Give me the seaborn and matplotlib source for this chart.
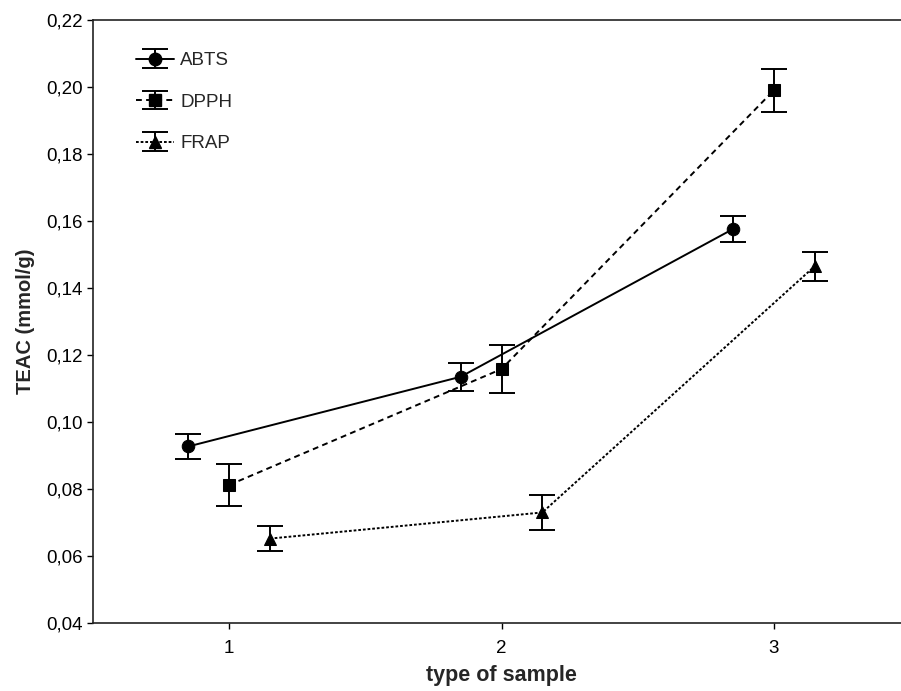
import matplotlib
matplotlib.use("Agg")
import matplotlib.pyplot as plt
from matplotlib.lines import Line2D
from matplotlib.legend_handler import HandlerTuple
from matplotlib.ticker import FuncFormatter
import seaborn as sns
import numpy as np
import pandas as pd

# ============================================================================
# DATA
# ============================================================================

samples = [1, 2, 3]
series = ["ABTS", "DPPH", "FRAP"]
offsets = [-0.15, 0.0, 0.15]

abts_mean = [0.0927, 0.1135, 0.1576]
abts_err = [0.0037, 0.0042, 0.0039]
dpph_mean = [0.0812, 0.1158, 0.1990]
dpph_err = [0.0063, 0.0071, 0.0065]
frap_mean = [0.0652, 0.0730, 0.1465]
frap_err = [0.0038, 0.0053, 0.0043]

means = {"ABTS": abts_mean, "DPPH": dpph_mean, "FRAP": frap_mean}
errs = {"ABTS": abts_err, "DPPH": dpph_err, "FRAP": frap_err}

markers = {"ABTS": "o", "DPPH": "s", "FRAP": "^"}
dashes = {"ABTS": "", "DPPH": (3, 2.2), "FRAP": (1.4, 1.0)}

rows = []
for s, off in zip(series, offsets):
    for x, m, e in zip(samples, means[s], errs[s]):
        rows.append({"series": s, "x": x + off, "teac": m, "err": e})
df = pd.DataFrame(rows)

# ============================================================================
# PLOT
# ============================================================================

sns.set_style("ticks")
plt.rcParams["font.family"] = ["Liberation Sans", "DejaVu Sans"]

fig = plt.figure(figsize=(9.01, 6.91), dpi=100)
ax = fig.add_axes([93 / 901, 68 / 691, 817 / 901, 603 / 691])

sns.lineplot(data=df, x="x", y="teac", style="series", markers=markers,
             dashes=dashes, color="black", linewidth=1.4, markersize=9,
             markeredgecolor="black", legend=False, ax=ax, sort=True)

handles = []
for s in series:
    d = df[df["series"] == s]
    cont = ax.errorbar(d["x"], d["teac"], yerr=d["err"], fmt="none",
                       ecolor="black", elinewidth=1.4, capsize=9.5,
                       capthick=1.4, zorder=1)
    proxy = Line2D([], [], color="black", marker=markers[s], markersize=9,
                   linewidth=1.4,
                   linestyle="-" if s == "ABTS" else (0, dashes[s]))
    handles.append((cont, proxy))

ax.legend(handles, series, handler_map={tuple: HandlerTuple(ndivide=1)},
          loc="upper left", bbox_to_anchor=(0.032, 0.975), frameon=False,
          fontsize=13.5, handlelength=2.0, handletextpad=0.35, labelspacing=1.3)

ax.set_xlim(0.5, 3.5)
ax.set_ylim(0.04, 0.22)
ax.set_xticks(samples)
ax.set_yticks(np.arange(0.04, 0.2201, 0.02))
ax.yaxis.set_major_formatter(FuncFormatter(lambda v, p: f"{v:.2f}".replace(".", ",")))
ax.tick_params(axis="both", labelsize=13.5, length=4, width=1, direction="out",
               color="black", labelcolor="black")
ax.tick_params(axis="x", pad=8)

for sp in ax.spines.values():
    sp.set_color("#222222")
    sp.set_linewidth(1.2)

ax.set_xlabel("type of sample", fontsize=15.5, fontweight="bold", labelpad=6)
ax.set_ylabel("TEAC (mmol/g)", fontsize=14.5, fontweight="bold", labelpad=8)

fig.savefig("out.png", dpi=100)
